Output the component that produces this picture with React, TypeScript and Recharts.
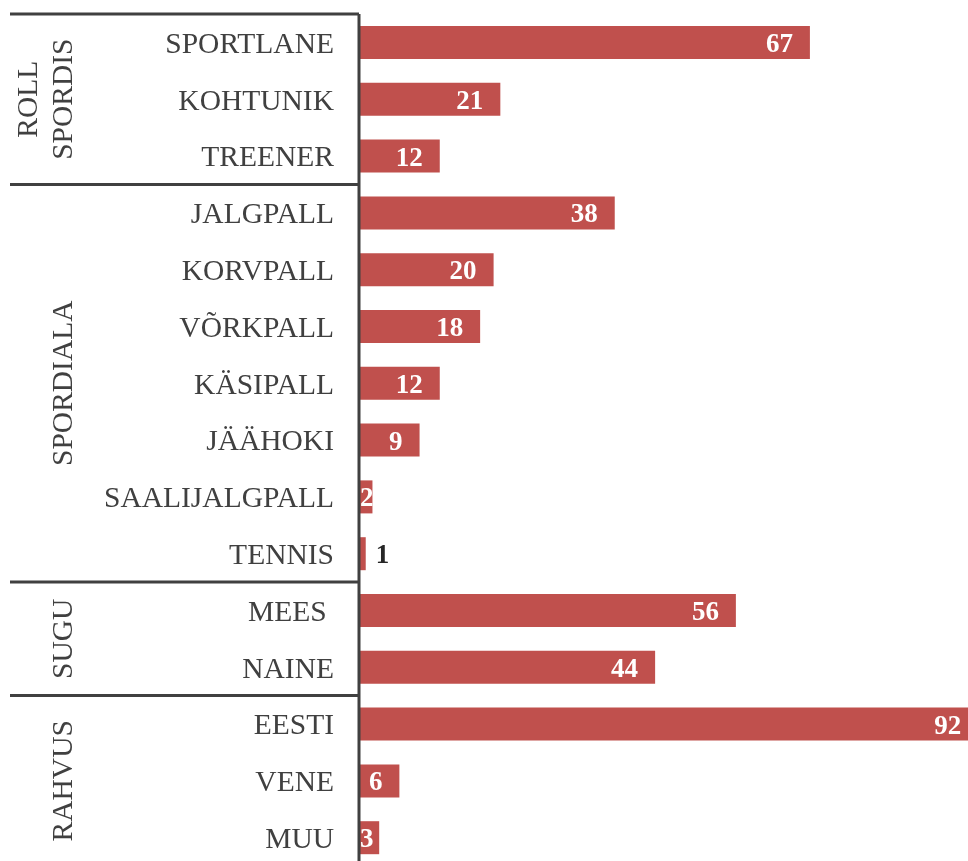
import { Bar, BarChart, LabelList, XAxis, YAxis } from 'recharts';

const categories = [
  'SPORTLANE', 'KOHTUNIK', 'TREENER',
  'JALGPALL', 'KORVPALL', 'VÕRKPALL', 'KÄSIPALL', 'JÄÄHOKI', 'SAALIJALGPALL', 'TENNIS',
  'MEES ', 'NAINE',
  'EESTI', 'VENE', 'MUU',
];
const values = [67, 21, 12, 38, 20, 18, 12, 9, 2, 1, 56, 44, 92, 6, 3];
const groupNames = [['ROLL', 'SPORDIS'], ['SPORDIALA'], ['SUGU'], ['RAHVUS']];
const groupSizes = [3, 7, 2, 3];

const data = categories.map((name, i) => ({ name, value: values[i] }));
const groupStarts = groupSizes.map((_, g) => groupSizes.slice(0, g).reduce((a, b) => a + b, 0));

const W = 1040;
const H = 870;
const M = { top: 6, right: 16, bottom: 12, left: 0 };
const AXIS_W = 351;
const BAND = (H - M.top - M.bottom) / categories.length;
const INK = '#404040';
const BAR = '#C0504D';
const FONT = '"Liberation Serif", "Times New Roman", serif';

function CategoryTick(props: any) {
  const { y, payload } = props;
  const i = props.index ?? payload.index;
  const top = y - BAND / 2;
  const g = groupStarts.indexOf(i);
  return (
    <g>
      <text
        x={AXIS_W - 25}
        y={y}
        dy="0.35em"
        textAnchor="end"
        fontSize={29.5}
        fill={INK}
        fontFamily={FONT}
        style={{ whiteSpace: 'pre' }}
      >
        {payload.value}
      </text>
      {g >= 0 && (
        <g>
          <line x1={2} x2={AXIS_W} y1={top} y2={top} stroke={INK} strokeWidth={3} />
          <g transform={`translate(0, ${top + (groupSizes[g] * BAND) / 2}) rotate(-90)`}>
            {groupNames[g].map((line, k) => (
              <text
                key={line}
                x={0}
                y={64 - (groupNames[g].length - 1 - k) * 35}
                textAnchor="middle"
                fontSize={29.5}
                fill={INK}
                fontFamily={FONT}
              >
                {line}
              </text>
            ))}
          </g>
        </g>
      )}
    </g>
  );
}

function ValueLabel(props: any) {
  const { x, y, width, height, value } = props;
  const tw = String(value).length * 13.5;
  const cy = y + height / 2;
  if (width < tw * 0.75) {
    return (
      <text x={x + width + 10} y={cy} dy="0.35em" fontSize={27} fontWeight="bold" fill="#262626" fontFamily={FONT}>
        {value}
      </text>
    );
  }
  const end = Math.max(x + width - 17, x + tw + 1);
  return (
    <text x={end} y={cy} dy="0.35em" textAnchor="end" fontSize={27} fontWeight="bold" fill="#fff" fontFamily={FONT}>
      {value}
    </text>
  );
}

export default function App() {
  return (
    <div
      style={{
        position: 'fixed',
        left: 0,
        top: 0,
        width: 968,
        height: 861,
        overflow: 'hidden',
        padding: 8,
        boxSizing: 'border-box',
      }}
    >
      <BarChart width={W} height={H} data={data} layout="vertical" margin={M} barSize={33}>
        <XAxis type="number" domain={[0, 100]} hide />
        <Bar dataKey="value" fill={BAR} isAnimationActive={false}>
          <LabelList dataKey="value" content={ValueLabel} />
        </Bar>
        <YAxis
          type="category"
          dataKey="name"
          width={AXIS_W}
          interval={0}
          tickLine={false}
          tickSize={0}
          axisLine={{ stroke: INK, strokeWidth: 3 }}
          tick={CategoryTick}
        />
      </BarChart>
    </div>
  );
}
